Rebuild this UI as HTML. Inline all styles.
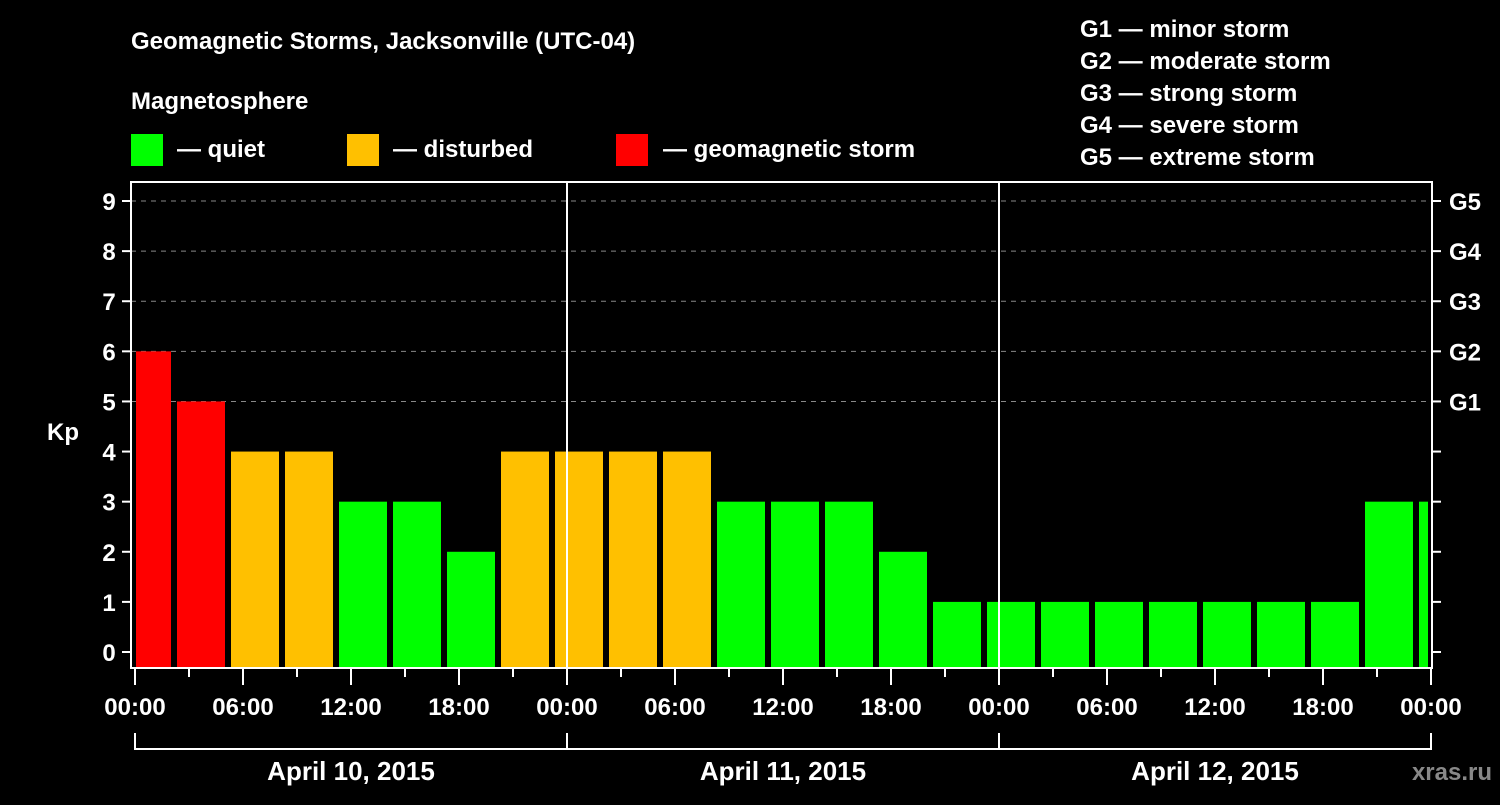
<!DOCTYPE html>
<html><head><meta charset="utf-8"><style>
body{margin:0;background:#000;width:1500px;height:800px;overflow:hidden}
svg text{font-family:"Liberation Sans",sans-serif;font-weight:bold;fill:#fff}
</style></head><body>
<svg id="chart" width="1500" height="800">
<text x="131" y="49" font-size="24">Geomagnetic Storms, Jacksonville (UTC-04)</text>
<text x="131" y="109" font-size="24">Magnetosphere</text>
<rect x="131" y="134" width="32" height="32" fill="#00ff00"/>
<text x="177" y="157" font-size="24">— quiet</text>
<rect x="347" y="134" width="32" height="32" fill="#ffc000"/>
<text x="393" y="157" font-size="24">— disturbed</text>
<rect x="616" y="134" width="32" height="32" fill="#ff0000"/>
<text x="663" y="157" font-size="24">— geomagnetic storm</text>
<g font-size="24">
<text x="1080" y="37" font-size="24">G1 — minor storm</text>
<text x="1080" y="69" font-size="24">G2 — moderate storm</text>
<text x="1080" y="101" font-size="24">G3 — strong storm</text>
<text x="1080" y="133" font-size="24">G4 — severe storm</text>
<text x="1080" y="165" font-size="24">G5 — extreme storm</text>
</g>
<g id="grid"></g><g id="bars"></g><g id="axes"></g>
<text x="63" y="440" font-size="24" text-anchor="middle">Kp</text>
<text x="1492" y="780" font-size="24" text-anchor="end" style="fill:#888">xras.ru</text>
</svg>
<script>
const kpValues=[6,5,4,4,3,3,2,4,4,4,4,3,3,3,2,1,1,1,1,1,1,1,1,3,3];
const yTicks=[0,1,2,3,4,5,6,7,8,9];
const gLabels=["G1","G2","G3","G4","G5"];
const xTickLabels=["00:00","06:00","12:00","18:00","00:00","06:00","12:00","18:00","00:00","06:00","12:00","18:00","00:00"];
const dayLabels=["April 10, 2015","April 11, 2015","April 12, 2015"];
const NS="http://www.w3.org/2000/svg";
const L=131,R=1432,T=182,B=668,X0=135,PXH=18,SLOT0=-50/60;
const y=v=>652-v*50.11;
const x=h=>X0+h*PXH;
function mk(p,tag,at){const e=document.createElementNS(NS,tag);for(const k in at)e.setAttribute(k,at[k]);document.getElementById(p).appendChild(e);return e;}
function col(v){return v>=5?"#ff0000":v>=4?"#ffc000":"#00ff00";}
yTicks.forEach(v=>{
 if(v>=5){const g=mk("grid","line",{x1:L,x2:R,y1:y(v),y2:y(v),stroke:"#888","stroke-dasharray":"5,5"});
 
 }
 const t=mk("axes","line",{x1:122,x2:L,y1:y(v),y2:y(v),stroke:"#fff","stroke-width":2});
 
 
 const t2=mk("axes","line",{x1:R,x2:1441,y1:y(v),y2:y(v),stroke:"#fff","stroke-width":2});
 
 
 const lb=mk("axes","text",{x:109,y:y(v)+9,"font-size":24,"text-anchor":"middle"});lb.textContent=v;
 
 
});
gLabels.forEach((g,i)=>{const lb=mk("axes","text",{x:1449,y:y(i+5)+9,"font-size":24});lb.textContent=g;
 
 });
kpValues.forEach((v,i)=>{
 let h0=SLOT0+i*3,h1=h0+3;
 let x1=Math.max(x(h0)+3,L+5),x2=Math.min(x(h1)-3,R-4);
 const r=mk("bars","rect",{x:x1,y:y(v),width:x2-x1,height:B-1-y(v),fill:col(v)});
 
 
});
const ax=mk("axes","rect",{x:L,y:T,width:R-L,height:B-T,fill:"none",stroke:"#fff","stroke-width":2});


for(let d=1;d<3;d++){const l=mk("axes","line",{x1:x(d*24),x2:x(d*24),y1:T,y2:B,stroke:"#fff","stroke-width":2});
 
 }
for(let h=0;h<=72;h+=3){const big=h%6==0;
 const t=mk("axes","line",{x1:x(h),x2:x(h),y1:B,y2:big?685:677,stroke:"#fff","stroke-width":2});
 
 }
xTickLabels.forEach((s,i)=>{const lb=mk("axes","text",{x:x(i*6),y:715,"font-size":24,"text-anchor":"middle"});lb.textContent=s;
 
 });
dayLabels.forEach((s,i)=>{
 const p=mk("axes","path",{d:`M${x(i*24)},733V749H${x(i*24+24)}V733`,stroke:"#fff","stroke-width":2,fill:"none"});
 
 
 const lb=mk("axes","text",{x:x(i*24+12),y:780,"font-size":26,"text-anchor":"middle"});lb.textContent=s;
 
 });
</script>
</body></html>
